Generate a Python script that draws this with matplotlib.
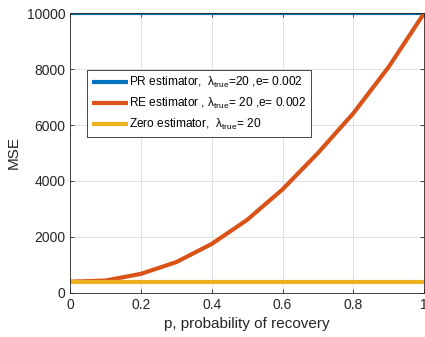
#!/usr/bin/env python3

import numpy as np
import matplotlib.pyplot as plt

plt.rcParams['font.family'] = ['Liberation Sans', 'DejaVu Sans']
plt.rcParams['mathtext.fontset'] = 'custom'
plt.rcParams['mathtext.rm'] = 'Liberation Sans'
plt.rcParams['mathtext.it'] = 'Liberation Sans:italic'

p = [0, 0.1, 0.2, 0.3, 0.4, 0.5, 0.6, 0.7, 0.8, 0.9, 1.0]
mse_pr = [10000] * len(p)
mse_re = [400, 440, 680, 1100, 1750, 2610, 3700, 5000, 6420, 8080, 10000]
mse_zero = [400] * len(p)

lam = r'$\mathrm{\lambda}_{\mathrm{true}}$'
labels = [f'PR estimator,  {lam}=20 ,e= 0.002',
          f'RE estimator , {lam}= 20 ,e= 0.002',
          f'Zero estimator,  {lam}= 20']
colors = ['#0072bd', '#d95319', '#edb120']

fig = plt.figure(figsize=(4.25, 3.37), dpi=100)
ax = fig.add_axes([0.165, 0.131, 0.833, 0.830])

for ys, c, lab in zip([mse_pr, mse_re, mse_zero], colors, labels):
    ax.plot(p, ys, color=c, lw=3, label=lab, solid_capstyle='butt')

ax.set_xlim(0, 1)
ax.set_ylim(0, 10000)
ax.set_xticks([0, 0.2, 0.4, 0.6, 0.8, 1])
ax.set_xticklabels(['0', '0.2', '0.4', '0.6', '0.8', '1'])
ax.set_yticks([0, 2000, 4000, 6000, 8000, 10000])
ax.grid(True, color='#dcdcdc', lw=0.6)
ax.set_axisbelow(True)
ax.tick_params(direction='in', top=True, right=True, labelsize=10,
               colors='#262626', length=3, width=0.6)
for s in ax.spines.values():
    s.set_color('#262626')
    s.set_linewidth(0.6)

ax.set_xlabel('p, probability of recovery', fontsize=11, color='#262626')
ax.set_ylabel('MSE', fontsize=11, color='#262626')

leg = ax.legend(loc='upper left', bbox_to_anchor=(0.205, 0.792),
                bbox_transform=fig.transFigure, fontsize=8.6, fancybox=False,
                framealpha=1, edgecolor='#262626', handlelength=3.0,
                handletextpad=0.1, borderpad=0.4, labelspacing=0.5,
                borderaxespad=0)
leg.get_frame().set_linewidth(0.6)

plt.savefig('out.png', dpi=100)
